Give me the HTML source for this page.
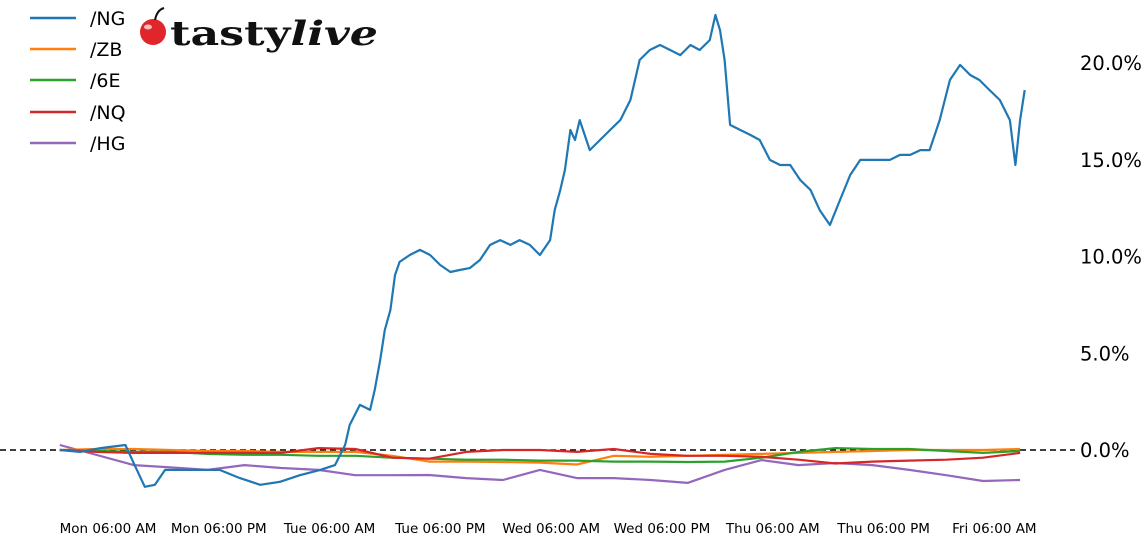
<!DOCTYPE html>
<html><head><meta charset="utf-8"><style>
body{margin:0;background:#fff;width:1147px;height:543px;overflow:hidden}
svg{font-family:"DejaVu Sans","Liberation Sans",sans-serif}
</style></head><body>
<svg id="chart" width="1147" height="543" viewBox="0 0 1147 543" xmlns="http://www.w3.org/2000/svg">
<g id="grid"></g>
<g id="series"></g>
<g id="yaxis"></g>
<g id="xaxis"></g>
<g font-size="19" fill="#000">
 <g><line x1="30" x2="76" y1="18" y2="18" stroke="#1f77b4" stroke-width="2.5"/><text x="90" y="25">/NG</text></g>
 <g><line x1="30" x2="76" y1="49" y2="49" stroke="#ff7f0e" stroke-width="2.5"/><text x="90" y="56">/ZB</text></g>
 <g><line x1="30" x2="76" y1="80" y2="80" stroke="#2ca02c" stroke-width="2.5"/><text x="90" y="87">/6E</text></g>
 <g><line x1="30" x2="76" y1="112" y2="112" stroke="#d62728" stroke-width="2.5"/><text x="90" y="119">/NQ</text></g>
 <g><line x1="30" x2="76" y1="143" y2="143" stroke="#9467bd" stroke-width="2.5"/><text x="90" y="150">/HG</text></g>
</g>
<g>
 <circle cx="153" cy="32" r="13" fill="#e0262b"/>
 <ellipse cx="148" cy="27" rx="4" ry="2.5" fill="#fff" opacity="0.7"/>
 <path d="M155 20 Q157 10 164 8" stroke="#111" stroke-width="2" fill="none"/>
 <text x="170" y="45" font-family="'DejaVu Serif','Liberation Serif',serif" font-weight="bold" font-size="34" fill="#111" textLength="208" lengthAdjust="spacingAndGlyphs">tasty<tspan font-style="italic">live</tspan></text>
</g>
</svg>
<script>
const ngTimes=[1.0,3.2,5.4,8.1,9.1,10.2,11.3,12.4,13.5,16.2,18.3,20.5,22.7,24.8,27.0,29.2,30.8,31.9,32.4,33.5,34.6,35.1,35.7,36.2,36.8,37.3,37.8,38.9,40.0,41.1,42.2,43.3,44.3,45.4,46.5,47.6,48.7,49.8,50.8,51.9,53.0,54.1,54.6,55.2,55.7,56.3,56.8,57.3,58.4,59.5,60.6,61.7,62.8,63.8,64.9,66.0,67.1,68.2,69.3,70.3,71.4,72.0,72.5,73.0,73.6,74.7,75.8,76.8,77.9,79.0,80.1,81.2,82.3,83.3,84.4,85.5,86.6,87.7,88.7,89.8,90.9,92.0,93.1,94.2,95.2,96.3,97.4,98.5,99.6,100.6,101.7,102.8,103.9,104.5,105.0,105.5];
const ngValues=[0,-0.1,0.1,0.26,-0.78,-1.9,-1.8,-1.03,-1.03,-1.03,-1.03,-1.45,-1.8,-1.65,-1.3,-1.03,-0.78,0.26,1.29,2.33,2.07,3.1,4.65,6.2,7.24,9.04,9.72,10.08,10.34,10.08,9.56,9.2,9.3,9.4,9.82,10.6,10.85,10.6,10.85,10.6,10.08,10.85,12.4,13.44,14.47,16.54,16.02,17.05,15.5,16.02,16.54,17.05,18.09,20.16,20.67,20.93,20.67,20.41,20.93,20.67,21.19,22.48,21.7,20.16,16.8,16.54,16.28,16.02,14.99,14.73,14.73,13.95,13.44,12.4,11.63,12.92,14.21,14.99,14.99,14.99,14.99,15.25,15.25,15.5,15.5,17.05,19.12,19.9,19.38,19.12,18.6,18.09,17.05,14.73,17.05,18.6];
const gridTimes=[1,5,9,13,17,21,25,29,33,37,41,45,49,53,57,61,65,69,73,77,81,85,89,93,97,101,105];
const zbValues=[0,0.05,0.05,0,-0.05,-0.05,-0.1,-0.1,-0.1,-0.3,-0.6,-0.6,-0.62,-0.65,-0.75,-0.3,-0.35,-0.3,-0.25,-0.2,-0.15,-0.1,-0.05,0,0,0,0.05];
const e6Values=[0,-0.05,-0.1,-0.1,-0.2,-0.25,-0.25,-0.3,-0.3,-0.4,-0.45,-0.5,-0.5,-0.55,-0.55,-0.6,-0.6,-0.62,-0.6,-0.4,-0.1,0.1,0.05,0.05,-0.05,-0.15,-0.05];
const nqValues=[0,-0.1,-0.15,-0.15,-0.15,-0.15,-0.15,0.1,0.05,-0.4,-0.45,-0.1,0,0,-0.1,0.05,-0.2,-0.3,-0.3,-0.35,-0.5,-0.7,-0.6,-0.55,-0.5,-0.4,-0.15];
const hgValues=[0.26,-0.26,-0.78,-0.9,-1.03,-0.78,-0.93,-1.03,-1.3,-1.3,-1.29,-1.45,-1.55,-1.03,-1.45,-1.45,-1.55,-1.7,-1.03,-0.52,-0.78,-0.67,-0.78,-1.03,-1.3,-1.6,-1.55];
const yTicks=[0,5,10,15,20];
const xTickHours=[6,18,30,42,54,66,78,90,102];
const xTickLabels=["Mon 06:00 AM","Mon 06:00 PM","Tue 06:00 AM","Tue 06:00 PM","Wed 06:00 AM","Wed 06:00 PM","Thu 06:00 AM","Thu 06:00 PM","Fri 06:00 AM"];

const NS="http://www.w3.org/2000/svg";
const xs=h=>50.6+h*9.233;
const ys=v=>450-v*19.35;
function mk(tag,attrs,parent){const e=document.createElementNS(NS,tag);for(const k in attrs)e.setAttribute(k,attrs[k]);parent.appendChild(e);return e;}
const yaxis=document.getElementById('yaxis'),xaxis=document.getElementById('xaxis'),series=document.getElementById('series'),grid=document.getElementById('grid');
const zl=mk('line',{x1:0,x2:1075,y1:ys(0),y2:ys(0),stroke:'#000','stroke-width':1.5,'stroke-dasharray':'6,4'},grid);


yTicks.forEach(v=>{const t=mk('text',{x:1080,y:ys(v)+7,'font-size':19.5,fill:'#000'},yaxis);t.textContent=v.toFixed(1)+'%';

});
xTickHours.forEach((h,i)=>{const t=mk('text',{x:xs(h)+2,y:533,'font-size':13.5,fill:'#000','text-anchor':'middle'},xaxis);t.textContent=xTickLabels[i];

});
function line(times,vals,color,name){const d=times.map((h,i)=>(i?'L':'M')+xs(h).toFixed(1)+' '+ys(vals[i]).toFixed(1)).join(' ');
const p=mk('path',{d:d,fill:'none',stroke:color,'stroke-width':2.2,'stroke-linejoin':'round'},series);

}
line(gridTimes,hgValues,'#9467bd','hg-line');
line(gridTimes,zbValues,'#ff7f0e','zb-line');
line(gridTimes,e6Values,'#2ca02c','6e-line');
line(gridTimes,nqValues,'#d62728','nq-line');
line(ngTimes,ngValues,'#1f77b4','ng-line');
</script>
</body></html>
